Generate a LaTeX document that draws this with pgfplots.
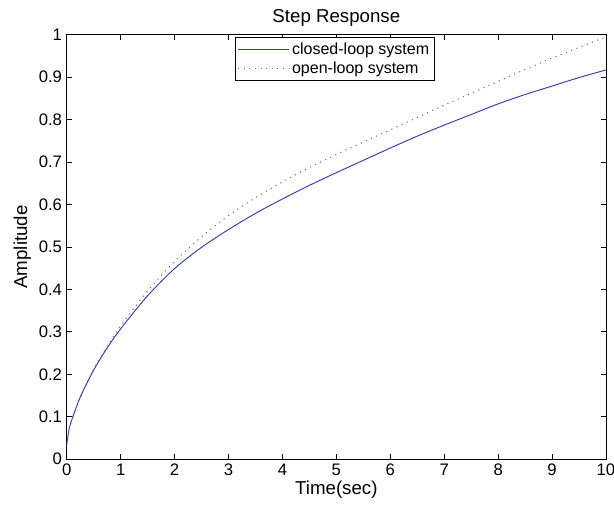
\documentclass[border=0pt]{standalone}
\usepackage{pgfplots}
\pgfplotsset{compat=1.18}
\usepackage{fontspec}
\setmainfont{Liberation Sans}
\definecolor{mblue}{RGB}{55,55,185}
\definecolor{mgray}{RGB}{110,110,110}
\begin{document}
\begin{tikzpicture}
\begin{axis}[
  name=ax,
  scale only axis,
  width=404pt, height=318pt,
  xmin=0, xmax=10, ymin=0, ymax=1,
  xtick={0,1,...,10},
  ytick={0,0.1,0.2,0.3,0.4,0.5,0.6,0.7,0.8,0.9,1},
  yticklabels={0,0.1,0.2,0.3,0.4,0.5,0.6,0.7,0.8,0.9,1},
  /pgf/number format/assume math mode=true,
  tick label style={font=\fontsize{12.5}{14}\selectfont},
  label style={font=\fontsize{14}{16}\selectfont},
  title style={font=\fontsize{14}{16}\selectfont, yshift=-3pt},
  title={Step Response},
  xlabel={Time(sec)},
  ylabel={Amplitude},
  xlabel style={yshift=3pt},
  ylabel style={yshift=-1pt},
  major tick length=4pt,
  tick style={black, line width=0.5pt},
  axis line style={black, line width=0.6pt},
  tick pos=both,
  legend style={at={(0.497,0.995)}, anchor=north, draw=black, line width=0.6pt,
    font=\fontsize{12}{14}\selectfont, inner sep=2pt,
    row sep=0pt, cells={anchor=west}},
  legend image code/.code={\draw[#1] (0pt,0pt) -- (38pt,0pt);},
]
\addplot[mblue, line width=0.7pt, smooth] coordinates {
(0,0.035) (0.05,0.075) (0.1,0.095) (0.25,0.146) (0.5,0.21) (0.75,0.262) (1,0.307)
(1.5,0.385) (2,0.449) (2.5,0.499) (3,0.541) (3.5,0.579) (4,0.613) (4.5,0.645) (5,0.675)
(5.5,0.704) (6,0.733) (6.5,0.761) (7,0.787) (7.5,0.812) (8,0.837) (8.5,0.859)
(9,0.879) (9.5,0.899) (10,0.917)};
\addlegendentry{closed-loop system}
\addplot[mgray, line width=0.8pt, dash pattern=on 0.8pt off 3.4pt, smooth] coordinates {
(0,0.035) (0.05,0.075) (0.1,0.095) (0.25,0.146) (0.5,0.212) (0.75,0.266) (1,0.314)
(1.5,0.396) (2,0.466) (2.5,0.524) (3,0.574) (3.5,0.616) (4,0.653) (4.5,0.687) (5,0.718)
(5.5,0.747) (6,0.776) (6.5,0.805) (7,0.834) (7.5,0.862) (8,0.89) (8.5,0.918)
(9,0.945) (9.5,0.97) (10,0.995)};
\addlegendentry{open-loop system}
\end{axis}
\pgfresetboundingbox
\path[use as bounding box] ([shift={(-50pt,-39pt)}]ax.south west) rectangle ([shift={(6pt,26pt)}]ax.north east);
\end{tikzpicture}
\end{document}
